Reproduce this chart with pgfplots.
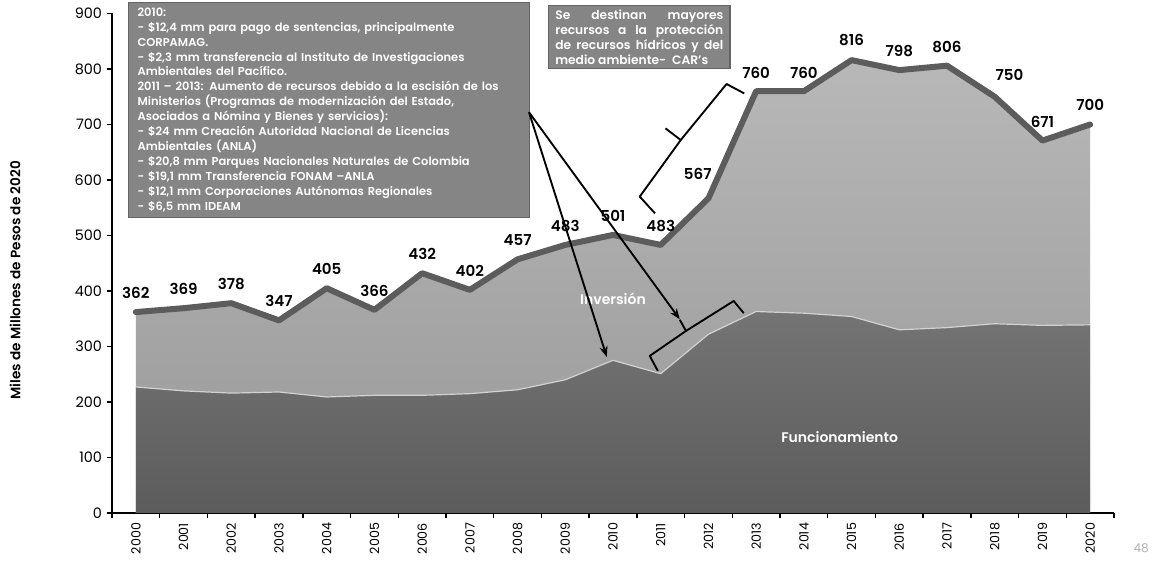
\documentclass[border=0pt]{standalone}
\usepackage{fontspec}
\setmainfont{Poppins}[BoldFont={Poppins SemiBold}]
\usepackage{pgfplots}
\usepackage{pgfplotstable}
\pgfplotsset{compat=1.18}
\usetikzlibrary{arrows.meta}

\definecolor{lineGray}{RGB}{92,92,92}
\definecolor{invTop}{RGB}{184,184,184}
\definecolor{invBot}{RGB}{152,152,152}
\definecolor{funTop}{RGB}{116,116,116}
\definecolor{funBot}{RGB}{92,92,92}
\definecolor{boxGray}{RGB}{133,133,133}
\definecolor{boxEdge}{RGB}{100,100,100}

% total = Funcionamiento + Inversion; dx/dy = label offsets (pt)
\pgfplotstableread{
x total func dx dy
0 362 227 0 14.5
1 369 220 0 14.5
2 378 216 0 14.5
3 347 218 0 14.5
4 405 209 0 14.5
5 366 212 0 14.5
6 432 212 0 14.5
7 402 215 0 14.5
8 457 222 0 14.5
9 483 240 0 14.5
10 501 275 0 14.5
11 483 251 0 14.5
12 567 322 -8 18
13 760 363 0 13.5
14 760 360 0 13.5
15 816 354 0 15
16 798 330 0 14
17 806 334 0 14
18 750 341 11 16.5
19 671 338 0 14
20 700 339 0 15
}\gastos

\begin{document}
\begin{tikzpicture}
\begin{axis}[
    scale only axis,
    width=751.5pt, height=374.6pt,
    xmin=-0.5, xmax=20.5, ymin=0, ymax=900,
    clip=false,
    axis x line*=bottom, axis y line*=left,
    axis line style={black, line width=1.1pt},
    xtick={-0.5,0.5,...,20.5},
    x tick label as interval,
    xticklabels={2000,2001,2002,2003,2004,2005,2006,2007,2008,2009,2010,2011,2012,2013,2014,2015,2016,2017,2018,2019,2020},
    ytick={0,100,...,900},
    tick align=outside,
    major tick length=4pt,
    tick style={black, line width=1pt},
    /pgf/number format/assume math mode=true,
    x tick label style={rotate=90, anchor=east, font=\fontsize{9.5}{11}\selectfont},
    y tick label style={font=\fontsize{10.8}{12}\selectfont},
]
% Inversion (top of stack)
\addplot[draw=none, top color=invTop, bottom color=invBot]
    table[x=x, y=total]{\gastos} \closedcycle;
% Funcionamiento
\addplot[draw=none, top color=funTop, bottom color=funBot]
    table[x=x, y=func]{\gastos} \closedcycle;
\addplot[gray!35, line width=0.9pt] table[x=x, y=func]{\gastos};
% total line with labels
\addplot[lineGray, line width=4.5pt, line join=round, line cap=round,
    point meta=explicit,
    visualization depends on={\thisrow{dx}\as\dx},
    visualization depends on={\thisrow{dy}\as\dy},
    nodes near coords,
    every node near coord/.append style={anchor=center, text=black,
        font=\bfseries\fontsize{11.3}{13}\selectfont,
        xshift=\dx pt, yshift=\dy pt}]
    table[x=x, y=total, meta=total]{\gastos};

\node[text=white, font=\bfseries\fontsize{10.5}{12}\selectfont] at (axis cs:10.0,385) {Inversión};
\node[text=white, font=\bfseries\fontsize{10.5}{12}\selectfont] at (axis cs:14.75,137) {Funcionamiento};

\node[rotate=90, font=\bfseries\fontsize{10.2}{12}\selectfont] at ([xshift=-72.75pt]rel axis cs:0,0.466) {Miles de Millones de Pesos de 2020};
\node[text=gray!60, font=\fontsize{9}{11}\selectfont] at (axis cs:21.07,-63) {48};

% note boxes
\node[anchor=north west, fill=boxGray, draw=boxEdge, line width=0.8pt,
      text=white, font=\bfseries\fontsize{8.6}{11.2}\selectfont,
      text width=287pt, inner xsep=7pt, inner ysep=4pt, align=left]
  at (axis cs:-0.17,921) {2010:\\
- \$12,4 mm para pago de sentencias, principalmente\\
CORPAMAG.\\
- \$2,3 mm transferencia al Instituto de Investigaciones\\
Ambientales del Pacífico.\\
2011 – 2013: Aumento de recursos debido a la escisión de los\\
Ministerios (Programas de modernización del Estado,\\
Asociados a Nómina y Bienes y servicios):\\
- \$24 mm Creación Autoridad Nacional de Licencias\\
Ambientales (ANLA)\\
- \$20,8 mm Parques Nacionales Naturales de Colombia\\
- \$19,1 mm Transferencia FONAM –ANLA\\
- \$12,1 mm Corporaciones Autónomas Regionales\\
- \$6,5 mm IDEAM};

\node[anchor=north west, fill=boxGray, draw=boxEdge, line width=0.8pt,
      text=white, font=\bfseries\fontsize{9.2}{11.2}\selectfont,
      text width=126pt, inner xsep=5pt, inner ysep=3pt, align=justify]
  at (axis cs:8.64,915) {Se destinan mayores\linebreak recursos a la protección\linebreak de recursos hídricos y del\linebreak medio ambiente-~~CAR’s};

% arrows and brackets
\draw[black, line width=1.4pt, -{Stealth[length=8pt, width=6pt]}] (axis cs:8.24,722) -- (axis cs:9.87,281);
\draw[black, line width=1.4pt, -{Stealth[length=8pt, width=6pt]}] (axis cs:8.24,722) -- (axis cs:11.40,349);
\draw[black, line width=1.4pt, line join=round]
    (axis cs:10.94,256) -- (axis cs:10.77,283) -- (axis cs:11.53,328) -- (axis cs:12.53,382) -- (axis cs:12.74,360);
\draw[black, line width=1.4pt] (axis cs:11.53,328) -- (axis cs:11.40,348);
\draw[black, line width=1.4pt, line join=round]
    (axis cs:10.88,540) -- (axis cs:10.56,570) -- (axis cs:11.42,672) -- (axis cs:12.38,773) -- (axis cs:12.75,756);
\draw[black, line width=1.4pt] (axis cs:11.42,672) -- (axis cs:11.10,693);
\end{axis}
\pgfresetboundingbox
\path[use as bounding box] ([xshift=-84pt,yshift=-38.25pt]current axis.south west)
    rectangle ([xshift=32.25pt,yshift=10.125pt]current axis.north east);
\end{tikzpicture}
\end{document}
